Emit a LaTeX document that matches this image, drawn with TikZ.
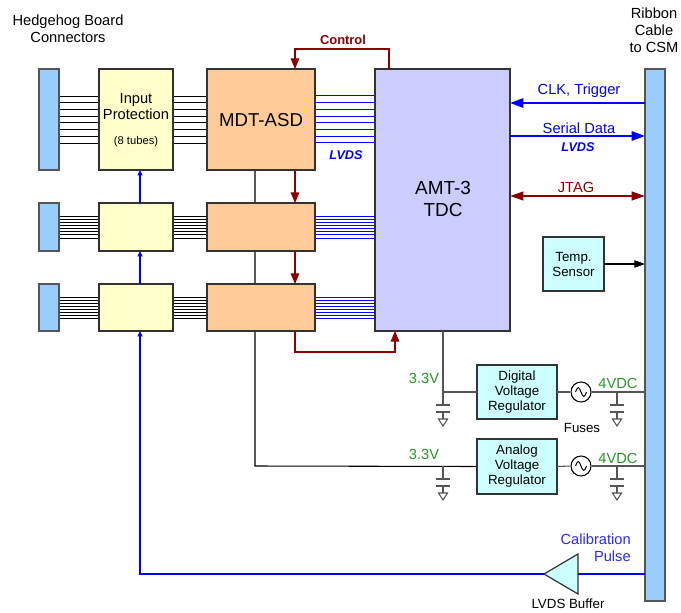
\documentclass[tikz,border=0pt]{standalone}
\usepackage{fontspec}
\setmainfont{Liberation Sans}
\usetikzlibrary{arrows.meta,calc}
\pgfdeclarelayer{bg}
\pgfsetlayers{bg,main}
\definecolor{connc}{HTML}{99CCFF}
\definecolor{ipc}{HTML}{FFFFCC}
\definecolor{mdtc}{HTML}{FFCC99}
\definecolor{amtc}{HTML}{CCCCFF}
\definecolor{regc}{HTML}{CCFFFF}
\definecolor{boxline}{HTML}{333333}
\definecolor{dred}{HTML}{8C0000}
\definecolor{dgreen}{HTML}{289628}
\definecolor{pblue}{HTML}{0000FF}
\definecolor{pwrc}{HTML}{555555}
\newcommand\capgnd[2]{%
  \draw[pwr] (#1,#2) -- (#1,#2+13);
  \draw[pwr] (#1-7,#2+13) -- (#1+7,#2+13);
  \draw[pwr] (#1-7,#2+20) -- (#1+7,#2+20);
  \draw[pwr] (#1,#2+20) -- (#1,#2+27);
  \draw[pwr] (#1-4.5,#2+27) -- (#1+4.5,#2+27) -- (#1,#2+34) -- cycle;}
\newcommand\fusesym[3]{%
  \node[fusec] (#1) at (#2,#3) {};
  \draw[line width=0.75pt] (#2-5.5,#3) sin (#2-2.75,#3-4.5) cos (#2,#3) sin (#2+2.75,#3+4.5) cos (#2+5.5,#3);}
\begin{document}
\begin{tikzpicture}[x=0.75pt,y=-0.75pt,
  sz/.style 2 args={minimum width=#1*0.75pt,minimum height=#2*0.75pt},
  blk/.style={draw=boxline,line width=0.9pt,inner sep=0pt,outer sep=0pt},
  conn/.style={blk,fill=connc,draw=pwrc},
  ipbox/.style={blk,fill=ipc},
  mdtbox/.style={blk,fill=mdtc},
  amtbox/.style={blk,fill=amtc},
  regbox/.style={blk,fill=regc,align=center,font=\fontsize{10}{11.25}\selectfont},
  fusec/.style={draw=black,line width=0.8pt,circle,minimum size=20*0.75pt,inner sep=0pt,fill=white},
  lbl/.style={inner sep=0pt,align=center,font=\fontsize{11}{12.5}\selectfont},
  wire/.style={line width=0.7pt,black},
  wires/.style={line width=0.55pt,black},
  bwire/.style={line width=0.75pt,pblue},
  bwires/.style={line width=0.55pt,pblue},
  pwr/.style={line width=0.8pt,pwrc},
  rline/.style={line width=0.8pt,dred},
  rarrow/.style={rline,-{Triangle[length=8pt,width=6.5pt]}},
  barrow/.style={line width=1.5pt,pblue,-{Triangle[length=10pt,width=7pt]}},
  sbarrow/.style={line width=1.2pt,pblue,-{Triangle[length=4pt,width=3.5pt]}},
]
\useasboundingbox (0,0) rectangle (681,613);

% ---- blocks
\node[conn,sz={20}{101}] (c1) at (49,119.5) {};
\node[conn,sz={20}{48}] (c2) at (49,227) {};
\node[conn,sz={20}{47}] (c3) at (49,307.5) {};
\node[ipbox,sz={74}{101}] (ip1) at (136,119.5) {};
\node[ipbox,sz={74}{48}] (ip2) at (136,227) {};
\node[ipbox,sz={74}{47}] (ip3) at (136,307.5) {};
\node[mdtbox,sz={108}{101}] (mdt1) at (261,119.5) {};
\node[mdtbox,sz={108}{48}] (mdt2) at (261,227) {};
\node[mdtbox,sz={108}{47}] (mdt3) at (261,307.5) {};
\node[amtbox,sz={135}{262}] (amt) at (442.5,200) {};
\node[conn,sz={20}{532}] (rib) at (655,335) {};
\node[regbox,sz={61}{54}] (temp) at (573.5,264) {Temp.\\Sensor};
\node[regbox,sz={80}{54}] (dreg) at (517,392) {Digital\\Voltage\\Regulator};
\node[regbox,sz={80}{55}] (areg) at (517,466.5) {Analog\\Voltage\\Regulator};
\fusesym{fd}{581}{392}
\fusesym{fa}{581}{466}
\draw[blk,fill=regc] (544,574) -- (578,554) -- (578,594) -- cycle;
\coordinate (buftip) at (544,574);
\coordinate (bufbase) at (578,574);

% ---- texts
\node[lbl] (hh) at (68,29) {Hedgehog Board\\Connectors};
\node[lbl,font=\fontsize{11}{12.75}\selectfont] (rt) at (654,30) {Ribbon\\Cable\\to CSM};
\node[lbl,font=\fontsize{11}{12}\selectfont] (ipt) at (136,107) {Input\\Protection};
\node[lbl,font=\fontsize{8.4}{10}\selectfont] (ipn) at (136,142) {(8 tubes)};
\node[lbl,font=\fontsize{14}{16}\selectfont] (mdtt) at (261,120) {MDT-ASD};
\node[lbl,font=\fontsize{14.2}{17}\selectfont] (amtt) at (443,199) {AMT-3\\TDC};
\node[lbl,dred,font=\fontsize{9.7}{11}\bfseries\selectfont] (ctl) at (343,40) {Control};
\node[lbl,pblue,font=\fontsize{9.5}{11}\bfseries\itshape\selectfont] (lv1) at (346,155) {LVDS};
\node[lbl,pblue] (clk) at (579,91) {CLK, Trigger};
\node[lbl,pblue] (sd) at (579,128) {Serial Data};
\node[lbl,pblue,font=\fontsize{9.5}{11}\bfseries\itshape\selectfont] (lv2) at (578,147) {LVDS};
\node[lbl,dred] (jt) at (576,187) {JTAG};
\node[lbl,dgreen] (v1) at (424,378) {3.3V};
\node[lbl,dgreen] (v2) at (424,454) {3.3V};
\node[lbl,dgreen] (v3) at (618,383) {4VDC};
\node[lbl,dgreen] (v4) at (618,458) {4VDC};
\node[lbl,font=\fontsize{10}{11}\selectfont] (fu) at (582,428) {Fuses};
\node[lbl,font=\fontsize{10}{11}\selectfont] (lb) at (568,604) {LVDS Buffer};
\node[lbl,anchor=east,align=right,font=\fontsize{11}{12.75}\selectfont,color={rgb,255:red,40;green,40;blue,255}] (cp) at (631,547.5) {Calibration\\Pulse};

% ---- connectors (behind blocks)
\begin{pgfonlayer}{bg}
\foreach \i in {0,...,7}{
  \pgfmathsetmacro\ya{96+\i*6.714}
  \draw[wire] (c1.east |- 0,\ya) -- (ip1.west |- 0,\ya);
  \draw[wire] (ip1.east |- 0,\ya) -- (mdt1.west |- 0,\ya);
  \draw[bwire] (mdt1.east |- 0,\ya) -- (amt.west |- 0,\ya);
  \pgfmathsetmacro\yb{216+\i*3.14}
  \draw[wires] (c2.east |- 0,\yb) -- (ip2.west |- 0,\yb);
  \draw[wires] (ip2.east |- 0,\yb) -- (mdt2.west |- 0,\yb);
  \draw[bwires] (mdt2.east |- 0,\yb) -- (amt.west |- 0,\yb);
  \pgfmathsetmacro\yc{297+\i*3.1}
  \draw[wires] (c3.east |- 0,\yc) -- (ip3.west |- 0,\yc);
  \draw[wires] (ip3.east |- 0,\yc) -- (mdt3.west |- 0,\yc);
  \draw[bwires] (mdt3.east |- 0,\yc) -- (amt.west |- 0,\yc);
}
% analog supply line through MDT column
\draw[line width=0.8pt,black] (mdt1.south -| 255,0) -- (255,466) -- (areg.west);
\end{pgfonlayer}

% control chain
\draw[rarrow] (amt.north -| 389,0) -- (389,49) -- (295,49) -- (mdt1.north -| 295,0);
\draw[rarrow] (mdt1.south -| 295,0) -- (mdt2.north -| 295,0);
\draw[rarrow] (mdt2.south -| 295,0) -- (mdt3.north -| 295,0);
\draw[rarrow] (mdt3.south -| 295,0) -- (295,352) -- (395,352) -- (amt.south -| 395,0);

% ribbon links
\draw[barrow] (rib.west |- 0,103) -- (amt.east |- 0,103);
\draw[barrow] (amt.east |- 0,136) -- (rib.west |- 0,136);
\draw[line width=1.5pt,dred,{Triangle[length=10pt,width=6.5pt]}-{Triangle[length=10pt,width=6.5pt]}] (amt.east |- 0,196) -- (rib.west |- 0,196);
\draw[line width=0.8pt,black,-{Triangle[length=8pt,width=5.5pt]}] (temp.east) -- (rib.west |- temp.east);

% calibration pulse
\draw[line width=1.2pt,pblue] (rib.west |- bufbase) -- (bufbase);
\draw[sbarrow] (buftip) -- (140,574) -- (ip3.south -| 140,0);
\draw[sbarrow] (ip3.north -| 140,0) -- (ip2.south -| 140,0);
\draw[sbarrow] (ip2.north -| 140,0) -- (ip1.south -| 140,0);

% power
\draw[pwr] (amt.south -| 443,0) -- (443,392) -- (dreg.west);
\capgnd{443}{392}
\capgnd{443}{466}
\draw[pwr] (dreg.east) -- (fd.west);
\draw[pwr] (fd.east) -- (rib.west |- fd.east);
\draw[pwr] (areg.east) -- (fa.west);
\draw[pwr] (fa.east) -- (rib.west |- fa.east);
\capgnd{617}{392}
\capgnd{617}{466}
\end{tikzpicture}
\end{document}
